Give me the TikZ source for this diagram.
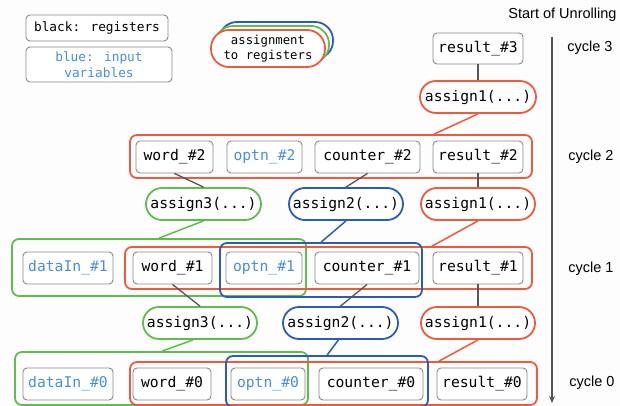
\documentclass[tikz,border=0pt]{standalone}
\usepackage{fontspec}
\setmainfont{Liberation Sans}
\newfontfamily\monofnt{DejaVu Sans Mono}
\usetikzlibrary{arrows.meta}
\definecolor{myred}{HTML}{EF5A3C}
\definecolor{mygreen}{HTML}{5DBE4B}
\definecolor{myblue}{HTML}{2B5BBF}
\definecolor{txtblue}{HTML}{4A8FD6}
\definecolor{regborder}{HTML}{8A8A8A}
\definecolor{conncol}{HTML}{555555}
\definecolor{bgcol}{HTML}{FDFDFD}
\tikzset{
  reg/.style={draw=regborder, fill=white, rounded corners=4pt, line width=0.9pt, inner sep=0pt,
    minimum height=32pt, font=\monofnt\fontsize{14.7}{16}\selectfont, text=black},
  inp/.style={reg, text=txtblue},
  pill/.style={draw, fill=white, rounded corners=16pt, line width=1.8pt, inner sep=0pt,
    minimum height=32pt, font=\monofnt\fontsize{14.7}{16}\selectfont, text=black},
  grp/.style={draw, rounded corners=7pt, line width=1.8pt, inner sep=0pt},
  conn/.style={draw=conncol, line width=1.3pt},
  cyc/.style={font=\fontsize{14.5}{16}\selectfont, text=black},
  legend/.style={draw=regborder, fill=white, rounded corners=4pt, line width=0.9pt, inner sep=0pt,
    align=center, font=\monofnt\fontsize{12.8}{16}\selectfont},
}
\begin{document}
\begin{tikzpicture}[x=1pt,y=-1pt]
\useasboundingbox[fill=bgcol] (0,0) rectangle (620,406);

% legend
\node[legend, minimum width=142pt, minimum height=26pt] (lg1) at (97,28) {black: registers};
\node[legend, text=txtblue, minimum width=146pt, minimum height=35pt] (lg2) at (99,64.5) {blue: input\\variables};
\node[pill, draw=myblue, minimum width=114pt, minimum height=37pt, rounded corners=18pt] (lgb) at (276,40.5) {};
\node[pill, draw=mygreen, minimum width=114pt, minimum height=37pt, rounded corners=18pt] (lgg) at (272,44.5) {};
\node[pill, draw=myred, minimum width=114pt, minimum height=37pt, rounded corners=18pt, align=center,
  font=\monofnt\fontsize{12.3}{15}\selectfont] (lgr) at (268,48.5) {assignment\\to registers};

% timeline
\node[cyc, anchor=east] (start) at (620,15) {Start of Unrolling};
\coordinate (atop) at (552,37);
\coordinate (abot) at (552,403);
\draw[line width=1.3pt, draw=conncol, -{Stealth[length=7pt,width=6pt]}] (atop) -- (abot);
\node[cyc] (cy3) at (590,48) {cycle 3};
\node[cyc] (cy2) at (591,157) {cycle 2};
\node[cyc] (cy1) at (591,269) {cycle 1};
\node[cyc] (cy0) at (592,383) {cycle 0};

% group boxes
\node[grp, draw=myred, minimum width=402pt, minimum height=43pt] (r2) at (331,156.5) {};
\node[grp, draw=mygreen, minimum width=294pt, minimum height=57pt] (g1) at (159,267.5) {};
\node[grp, draw=myred, minimum width=407pt, minimum height=42pt] (r1) at (328.5,268) {};
\node[grp, draw=myblue, minimum width=202pt, minimum height=54pt] (b1) at (321,270) {};
\node[grp, draw=mygreen, minimum width=293pt, minimum height=53pt] (g0) at (161.5,378.5) {};
\node[grp, draw=myred, minimum width=407pt, minimum height=43pt] (r0) at (333.5,383.5) {};
\node[grp, draw=myblue, minimum width=202pt, minimum height=51pt] (b0) at (327,381.5) {};

% cycle 3
\node[reg, minimum width=90pt, minimum height=31pt] (res3) at (478,48.5) {result\_\#3};
\node[pill, draw=myred, minimum width=116pt] (a13) at (478,97) {assign1(...)};

% cycle 2
\node[reg, minimum width=77pt] (w2) at (174.5,157) {word\_\#2};
\node[inp, minimum width=75pt] (o2) at (264.5,157) {optn\_\#2};
\node[reg, minimum width=105pt] (c2) at (367.5,157) {counter\_\#2};
\node[reg, minimum width=90pt] (res2) at (478,157) {result\_\#2};
\node[pill, draw=mygreen, minimum width=115pt] (a32) at (203.5,204) {assign3(...)};
\node[pill, draw=myblue, minimum width=114pt] (a22) at (346,204) {assign2(...)};
\node[pill, draw=myred, minimum width=114pt] (a12) at (478,204) {assign1(...)};

% cycle 1
\node[inp, minimum width=90pt] (d1) at (68,268) {dataIn\_\#1};
\node[reg, minimum width=79pt] (w1) at (172.5,268) {word\_\#1};
\node[inp, minimum width=76pt] (o1) at (264,268) {optn\_\#1};
\node[reg, minimum width=104pt] (c1) at (367,268) {counter\_\#1};
\node[reg, minimum width=90pt] (res1) at (478,268) {result\_\#1};
\node[pill, draw=mygreen, minimum width=114pt] (a31) at (200,323) {assign3(...)};
\node[pill, draw=myblue, minimum width=115pt] (a21) at (340.5,323) {assign2(...)};
\node[pill, draw=myred, minimum width=114pt] (a11) at (478,323) {assign1(...)};

% cycle 0
\node[inp, minimum width=90pt] (d0) at (68,384) {dataIn\_\#0};
\node[reg, minimum width=78pt] (w0) at (172,384) {word\_\#0};
\node[inp, minimum width=74pt] (o0) at (268,384) {optn\_\#0};
\node[reg, minimum width=104pt] (c0) at (371,384) {counter\_\#0};
\node[reg, minimum width=90pt] (res0) at (482,384) {result\_\#0};

% connectors
\draw[conn] (res3.south) -- (a13.north);
\draw[myred, line width=1.5pt] (a13.south) -- ([xshift=305pt]r2.north west);
\draw[conn] (w2.south) -- (a32.north);
\draw[conn] (c2.south) -- (a22.north);
\draw[conn] (res2.south) -- (a12.north);
\draw[mygreen, line width=1.5pt] (a32.south) -- ([xshift=148pt]g1.north west);
\draw[myblue, line width=1.5pt] (a22.south) -- ([xshift=102pt]b1.north west);
\draw[myred, line width=1.5pt] (a12.south) -- ([xshift=308pt]r1.north west);
\draw[conn] (w1.south) -- (a31.north);
\draw[conn] (c1.south) -- (a21.north);
\draw[conn] (res1.south) -- (a11.north);
\draw[mygreen, line width=1.5pt] ([xshift=-7pt]a31.south) -- ([xshift=148pt]g0.north west);
\draw[myblue, line width=1.5pt] ([xshift=-2pt]a21.south) -- ([xshift=102pt]b0.north west);
\draw[myred, line width=1.5pt] (a11.south) -- ([xshift=310pt]r0.north west);
\end{tikzpicture}
\end{document}
